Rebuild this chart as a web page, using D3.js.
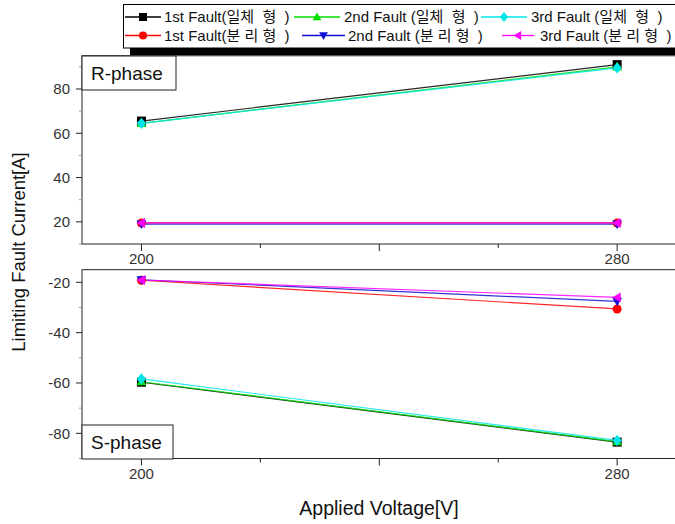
<!DOCTYPE html>
<html>
<head>
<meta charset="utf-8">
<script src="https://cdn.jsdelivr.net/npm/d3@7"></script>
<style>
  body { margin: 0; background: #fff; }
  svg { display: block; font-family: Arial, "Liberation Sans", "Noto Sans CJK KR", sans-serif; }
  .leg { white-space: pre; }
</style>
</head>
<body>
<svg id="chart" width="675" height="524"></svg>
<script>
// Applied voltage (V) on the x axis
const voltages = [200, 280];
const xTicksMajor = [200, 280];
const xTicksAll = [200, 220, 240, 260, 280];

// Series names (legend order) and styling keys
const seriesNames = [
  "1st Fault(일체  형  )", "2nd Fault (일체  형  )", "3rd Fault (일체  형  )",
  "1st Fault(분 리 형  )", "2nd Fault (분 리 형  )", "3rd Fault (분 리 형  )"
];
const seriesColors = ["#000000", "#00e000", "#00e5e5", "#ff0000", "#1010d0", "#ff00ff"];
const seriesSymbols = ["square", "triUp", "diamond", "circle", "triDown", "triLeft"];

// R-phase limiting fault current [A]
const rPhase1stInt = [65.5, 91];
const rPhase2ndInt = [64.5, 90];
const rPhase3rdInt = [64.5, 89.5];
const rPhase1stSep = [19.5, 19.5];
const rPhase2ndSep = [19, 19];
const rPhase3rdSep = [19.5, 19.5];

// S-phase limiting fault current [A]
const sPhase1stInt = [-59.7, -83.5];
const sPhase2ndInt = [-59.5, -83.3];
const sPhase3rdInt = [-58.4, -82.8];
const sPhase1stSep = [-19.2, -30.6];
const sPhase2ndSep = [-19, -27.6];
const sPhase3rdSep = [-19.1, -26];

const rTicksMajor = [20, 40, 60, 80];
const rTicksAll = [10, 20, 30, 40, 50, 60, 70, 80, 90];
const sTicksMajor = [-80, -60, -40, -20];
const sTicksAll = [-90, -80, -70, -60, -50, -40, -30, -20];

// draw order: 1st(int), 1st(sep), 2nd(int), 2nd(sep), 3rd(int), 3rd(sep)
const drawOrder = [0, 3, 1, 4, 2, 5];
const rSeries = [rPhase1stInt, rPhase2ndInt, rPhase3rdInt, rPhase1stSep, rPhase2ndSep, rPhase3rdSep];
const sSeries = [sPhase1stInt, sPhase2ndInt, sPhase3rdInt, sPhase1stSep, sPhase2ndSep, sPhase3rdSep];

const svg = d3.select("#chart");
const axisColor = "#222";
const left = 82, right = 676.6;

const x = d3.scaleLinear().domain([190, 290]).range([left, right]);
const yR = d3.scaleLinear().domain([10, 95]).range([244, 55.75]);
const yS = d3.scaleLinear().domain([-90, -15]).range([458.5, 269.7]);

function symbolPath(kind, size) {
  const s = size / 2;
  switch (kind) {
    case "square": return `M${-s},${-s}H${s}V${s}H${-s}Z`;
    case "circle": return d3.symbol(d3.symbolCircle, Math.PI * s * s)();
    case "triUp": return `M0,${-s * 1.1}L${s * 1.1},${s * 0.8}L${-s * 1.1},${s * 0.8}Z`;
    case "triDown": return `M0,${s * 1.1}L${s * 1.1},${-s * 0.8}L${-s * 1.1},${-s * 0.8}Z`;
    case "triLeft": return `M${-s * 1.1},0L${s * 0.8},${-s * 1.1}L${s * 0.8},${s * 1.1}Z`;
    case "diamond": return `M0,${-s * 1.25}L${s * 1.05},0L0,${s * 1.25}L${-s * 1.05},0Z`;
  }
}

function drawPanel(y, series, ticksAll, ticksMajor, label, labelBox) {
  const g = svg.append("g");
  const y0 = y.range()[0], y1 = y.range()[1];
  // frame
  g.append("rect").attr("x", left).attr("y", y1).attr("width", right - left).attr("height", y0 - y1)
    .attr("fill", "none").attr("stroke", axisColor).attr("stroke-width", 1);

  // y ticks
  ticksAll.forEach(t => {
    const major = ticksMajor.includes(t);
    g.append("line").attr("x1", left).attr("x2", left - (major ? 6 : 3))
      .attr("y1", y(t)).attr("y2", y(t)).attr("stroke", major ? axisColor : "#999");
  });
  ticksMajor.forEach(t => {
    g.append("text").attr("x", 70).attr("y", y(t)).attr("dy", "0.35em")
      .attr("text-anchor", "end").attr("font-size", 15).attr("fill", "#333").text(t);
  });

  // x ticks
  xTicksAll.forEach(t => {
    const major = (t - 200) % 40 === 0;
    g.append("line").attr("x1", x(t)).attr("x2", x(t)).attr("y1", y0).attr("y2", y0 + (major ? 7 : 4))
      .attr("stroke", axisColor);
  });
  xTicksMajor.forEach(t => {
    g.append("text").attr("x", x(t)).attr("y", y0 + 20).attr("text-anchor", "middle")
      .attr("font-size", 15).attr("fill", "#333").text(t);
  });

  // series lines and markers
  const line = d3.line().x((d, i) => x(voltages[i])).y(d => y(d));
  drawOrder.forEach(k => {
    g.append("path").datum(series[k]).attr("d", line).attr("fill", "none")
      .attr("stroke", seriesColors[k]).attr("stroke-width", 1.2).attr("opacity", 0.85);
  });
  drawOrder.forEach(k => {
    series[k].forEach((v, i) => {
      g.append("path").attr("d", symbolPath(seriesSymbols[k], 9))
        .attr("transform", `translate(${x(voltages[i])},${y(v)})`)
        .attr("fill", seriesColors[k]);
    });
  });

  // phase label box
  g.append("rect").attr("x", left).attr("y", labelBox.y).attr("width", labelBox.w).attr("height", labelBox.h)
    .attr("fill", "#fff").attr("stroke", axisColor);
  g.append("text").attr("x", left + 9).attr("y", labelBox.y + labelBox.h / 2).attr("dy", "0.36em")
    .attr("font-size", 19).attr("fill", "#111").text(label);
}

drawPanel(yR, rSeries, rTicksAll, rTicksMajor, "R-phase", { y: 56, w: 94, h: 34 });
drawPanel(yS, sSeries, sTicksAll, sTicksMajor, "S-phase", { y: 425, w: 91, h: 34 });

// legend with drop shadow
const lg = svg.append("g");
lg.append("rect").attr("x", 130).attr("y", 11).attr("width", 600).attr("height", 44).attr("fill", "#000");
lg.append("rect").attr("x", 123.5).attr("y", 4.5).attr("width", 600).attr("height", 43.5)
  .attr("fill", "#fff").attr("stroke", "#000");

// legend sample line extents and label start for each entry
const legendPos = [
  { x0: 125, x1: 161, tx: 164, y: 17 }, { x0: 294, x1: 340, tx: 344, y: 17 }, { x0: 481, x1: 527, tx: 531, y: 17 },
  { x0: 125, x1: 161, tx: 164, y: 35.5 }, { x0: 302, x1: 345, tx: 348, y: 35.5 }, { x0: 502, x1: 534, tx: 540, y: 35.5 }
];
seriesNames.forEach((name, k) => {
  const p = legendPos[k];
  lg.append("line").attr("x1", p.x0).attr("x2", p.x1).attr("y1", p.y).attr("y2", p.y)
    .attr("stroke", seriesColors[k]).attr("stroke-width", 1.3);
  lg.append("path").attr("d", symbolPath(seriesSymbols[k], 8))
    .attr("transform", `translate(${(p.x0 + p.x1) / 2},${p.y})`).attr("fill", seriesColors[k]);
  lg.append("text").attr("class", "leg").attr("x", p.tx).attr("y", p.y).attr("dy", "0.36em")
    .attr("font-size", 15).attr("fill", "#111").text(name);
});

// axis titles
svg.append("text").attr("transform", "translate(25,252) rotate(-90)").attr("text-anchor", "middle")
  .attr("font-size", 18.5).attr("fill", "#111").text("Limiting Fault Current[A]");
svg.append("text").attr("x", 379).attr("y", 515).attr("text-anchor", "middle")
  .attr("font-size", 19.5).attr("fill", "#111").text("Applied Voltage[V]");
</script>
</body>
</html>
